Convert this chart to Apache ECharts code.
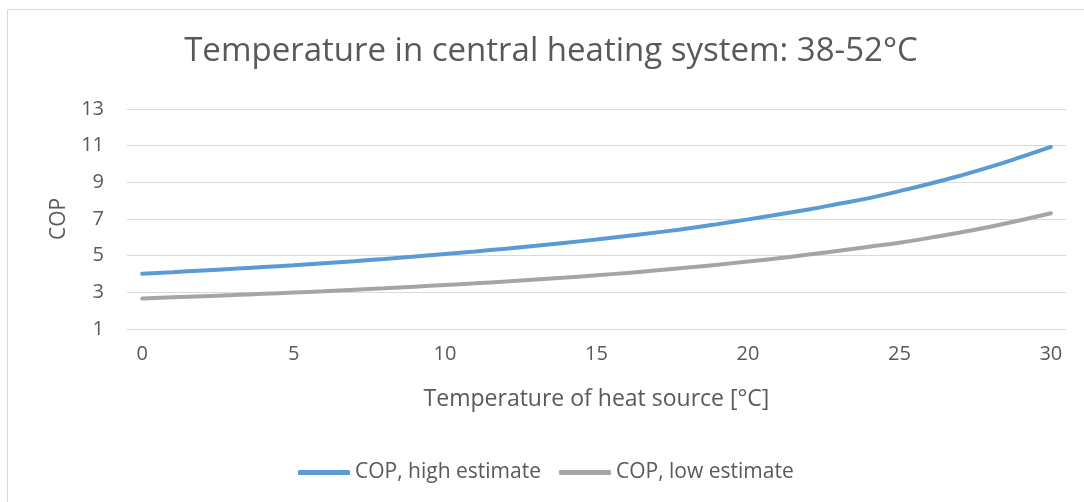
<!DOCTYPE html>
<html>
<head>
<meta charset="utf-8">
<script src="https://cdn.jsdelivr.net/npm/echarts@6/dist/echarts.min.js"></script>
<style>
  html, body { margin: 0; padding: 0; background: #fff; }
  #main { width: 1084px; height: 502px; }
</style>
</head>
<body>
<div id="main"></div>
<script>
  // temperature of heat source, 0..30 °C
  var temps = [];
  for (var t = 0; t <= 30; t++) temps.push(String(t));

  // COP values
  var copHigh = [4.02, 4.10, 4.19, 4.28, 4.38, 4.48, 4.59, 4.70, 4.82, 4.95,
                 5.09, 5.23, 5.38, 5.54, 5.71, 5.88, 6.07, 6.27, 6.48, 6.72,
                 6.98, 7.25, 7.52, 7.83, 8.14, 8.52, 8.92, 9.36, 9.84, 10.37, 10.93];
  var copLow = [2.67, 2.73, 2.79, 2.85, 2.92, 2.99, 3.06, 3.14, 3.22, 3.31,
                3.40, 3.49, 3.59, 3.70, 3.81, 3.93, 4.06, 4.20, 4.35, 4.51,
                4.68, 4.86, 5.06, 5.27, 5.49, 5.70, 5.97, 6.26, 6.58, 6.93, 7.31];

  var seriesNames = ['COP, high estimate', 'COP, low estimate'];
  var font = 'Open Sans';
  var textColor = '#595959';

  var myChart = echarts.init(document.getElementById('main'));
  myChart.setOption({
    animation: false,
    color: ['#5B9BD5', '#A5A5A5'],
    title: {
      text: 'Temperature in central heating system: 38-52°C',
      left: 546,
      textAlign: 'center',
      top: 30,
      textStyle: { fontFamily: font, fontSize: 33, fontWeight: 'normal', color: textColor }
    },
    graphic: [{
      type: 'rect',
      shape: { x: 7.5, y: 9.5, width: 1100, height: 510 },
      style: { fill: 'none', stroke: '#D9D9D9', lineWidth: 1 },
      silent: true
    }],
    legend: {
      data: seriesNames,
      top: 457,
      left: 293,
      icon: 'roundRect',
      itemWidth: 52,
      itemHeight: 5,
      itemGap: 18,
      textStyle: { fontFamily: font, fontSize: 21, color: textColor }
    },
    grid: { left: 127, right: 18, top: 109, bottom: 173 },
    xAxis: {
      type: 'category',
      data: temps,
      boundaryGap: true,
      name: 'Temperature of heat source [°C]',
      nameLocation: 'middle',
      nameGap: 59,
      nameTextStyle: { fontFamily: font, fontSize: 23, color: textColor },
      axisLine: { show: true, lineStyle: { color: '#D9D9D9' } },
      axisTick: { show: false },
      axisLabel: { interval: 4, margin: 15, fontFamily: font, fontSize: 20, color: textColor }
    },
    yAxis: {
      type: 'value',
      min: 1,
      max: 13,
      interval: 2,
      name: 'COP',
      nameLocation: 'middle',
      nameGap: 57,
      nameTextStyle: { fontFamily: font, fontSize: 21, color: textColor },
      axisLine: { show: false },
      axisTick: { show: false },
      splitLine: { lineStyle: { color: '#D9D9D9', width: 1 } },
      axisLabel: { margin: 23, fontFamily: font, fontSize: 20, color: textColor }
    },
    series: [{
      name: seriesNames[0],
      type: 'line',
      data: copHigh,
      smooth: true,
      showSymbol: false,
      symbol: 'none',
      lineStyle: { width: 4, cap: 'round' }
    }, {
      name: seriesNames[1],
      type: 'line',
      data: copLow,
      smooth: true,
      showSymbol: false,
      symbol: 'none',
      lineStyle: { width: 4, cap: 'round' }
    }]
  });
</script>
</body>
</html>
